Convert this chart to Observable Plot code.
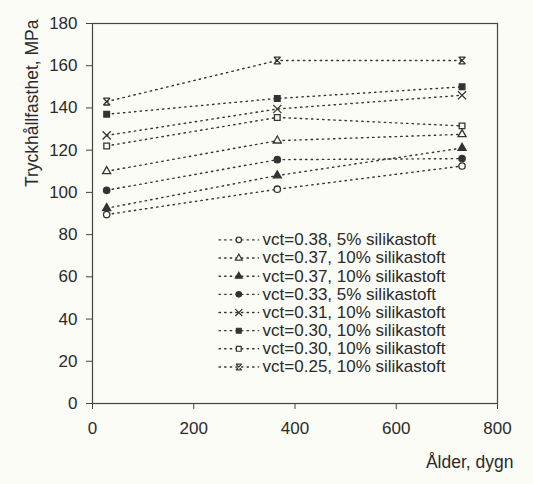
<!DOCTYPE html>
<html>
<head>
<meta charset="utf-8">
<script src="https://cdn.jsdelivr.net/npm/d3@7"></script>
<script src="https://cdn.jsdelivr.net/npm/@observablehq/plot@0.6"></script>
<style>
  html, body { margin: 0; padding: 0; background: #fcfcf7; }
</style>
</head>
<body>
<div id="chart"></div>
<script>
// Age (days)
const ages = [28, 365, 730];
// Series labels (legend order, top to bottom)
const labels = [
  "vct=0.38, 5% silikastoft",
  "vct=0.37, 10% silikastoft",
  "vct=0.37, 10% silikastoft",
  "vct=0.33, 5% silikastoft",
  "vct=0.31, 10% silikastoft",
  "vct=0.30, 10% silikastoft",
  "vct=0.30, 10% silikastoft",
  "vct=0.25, 10% silikastoft"
];
// Compressive strength, MPa, at 28, 365, 730 days
const s1 = [89.5, 101.5, 112.5];   // open circle
const s2 = [110, 124.5, 127.5];    // open triangle
const s3 = [92.5, 108, 121];       // filled triangle
const s4 = [101, 115.5, 116];      // filled circle
const s5 = [127, 139.5, 146];      // times
const s6 = [137, 144.5, 150];      // filled square
const s7 = [122, 135.5, 131.5];    // open square
const s8 = [143, 162.5, 162.5];    // asterisk
const seriesValues = [s1, s2, s3, s4, s5, s6, s7, s8];
const xTicks = [0, 200, 400, 600, 800];
const yTicks = [0, 20, 40, 60, 80, 100, 120, 140, 160, 180];

const ink = "#333";
const bg = "#fcfcf7";

// custom asterisk: X with top and bottom bars
const starSymbol = {
  draw(context, size) {
    const r = Math.sqrt(size / Math.PI);
    const a = r * 0.85;
    context.moveTo(-a, -a); context.lineTo(a, a);
    context.moveTo(a, -a); context.lineTo(-a, a);
    context.moveTo(-a, -a); context.lineTo(a, -a);
    context.moveTo(-a, a); context.lineTo(a, a);
  }
};

const styles = [
  {symbol: "circle", fill: bg, stroke: ink, r: 3.2},
  {symbol: "triangle", fill: bg, stroke: ink, r: 3.0},
  {symbol: "triangle", fill: ink, stroke: ink, r: 3.0},
  {symbol: "circle", fill: ink, stroke: ink, r: 3.2},
  {symbol: "times", fill: "none", stroke: ink, r: 3.8},
  {symbol: "square", fill: ink, stroke: ink, r: 3.2},
  {symbol: "square", fill: bg, stroke: ink, r: 3.2},
  {symbol: starSymbol, fill: "none", stroke: ink, r: 4.0}
];

const data = seriesValues.flatMap((vals, i) =>
  vals.map((v, j) => ({series: i, age: ages[j], mpa: v}))
);

// legend layout (in data units of the plot)
const legTop = 77.5, legStep = 8.6;
const legend = labels.map((label, i) => ({series: i, label, y: legTop - i * legStep}));

const marks = [
  Plot.frame({stroke: "#444", strokeWidth: 1.2}),
  Plot.axisX({ticks: xTicks, tickSize: 6, tickPadding: 12, label: null, stroke: "#444"}),
  Plot.axisY({ticks: yTicks, tickSize: 6, tickPadding: 9, label: null, stroke: "#444"}),
  Plot.line(data, {x: "age", y: "mpa", z: "series", stroke: ink, strokeWidth: 1.4,
    strokeDasharray: "1.4 4.2", strokeLinecap: "round"}),
  Plot.line(legend.flatMap(d => [{series: d.series, x: 250, y: d.y}, {series: d.series, x: 328, y: d.y}]),
    {x: "x", y: "y", z: "series", stroke: ink, strokeWidth: 1.4, strokeDasharray: "1.4 4.2", strokeLinecap: "round"})
];

styles.forEach((st, i) => {
  marks.push(Plot.dot(data.filter(d => d.series === i), {
    x: "age", y: "mpa", symbol: st.symbol, r: st.r, fill: st.fill, stroke: st.stroke, strokeWidth: 1.3
  }));
  marks.push(Plot.dot(legend.filter(d => d.series === i), {
    x: () => 289, y: "y", symbol: st.symbol, r: st.r * 0.85, fill: st.fill, stroke: st.stroke, strokeWidth: 1.2
  }));
});

marks.push(
  Plot.text(legend, {x: () => 336, y: "y", text: "label", textAnchor: "start",
    fontSize: 17, fill: "#2a2a2a"}),
  Plot.text(["Tryckhållfasthet, MPa"], {frameAnchor: "top-left", text: d => d, rotate: -90,
    textAnchor: "end", dx: -67, dy: -4, fontSize: 17.5, fill: "#2a2a2a"}),
  Plot.text(["Ålder, dygn"], {frameAnchor: "bottom-right", text: d => d,
    textAnchor: "end", dx: 16, dy: 64, fontSize: 17.5, fill: "#2a2a2a"})
);

const chart = Plot.plot({
  width: 533,
  height: 484,
  marginLeft: 92,
  marginRight: 36,
  marginTop: 23,
  marginBottom: 81,
  x: {domain: [0, 800]},
  y: {domain: [0, 180]},
  style: {fontFamily: "'Liberation Sans', Arial, sans-serif", fontSize: "17px", color: "#2a2a2a", background: bg},
  marks
});
document.getElementById("chart").appendChild(chart);
</script>
</body>
</html>
